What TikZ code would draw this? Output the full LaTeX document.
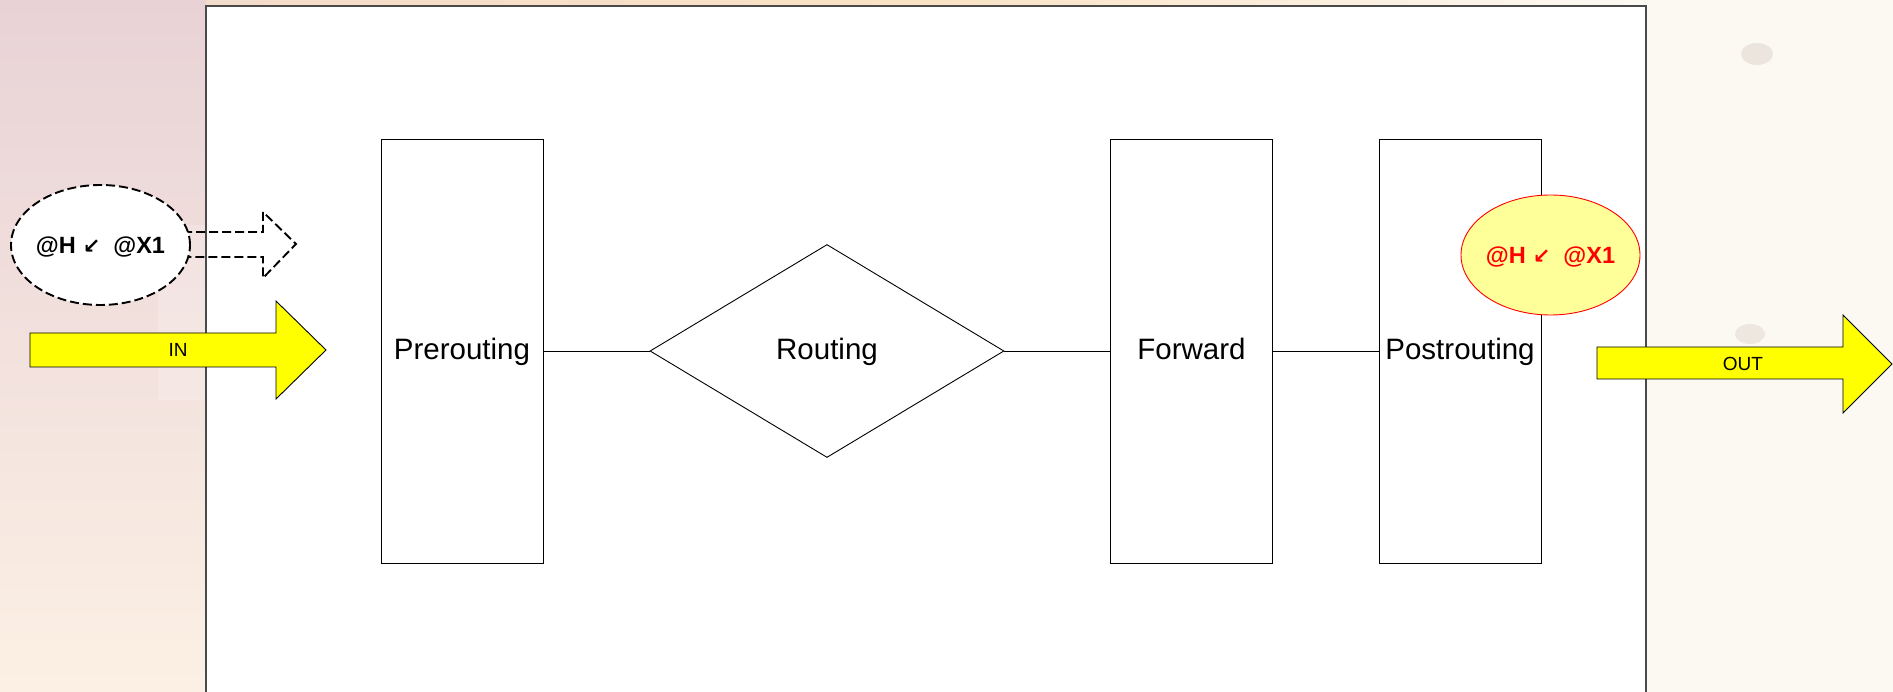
\documentclass[tikz,border=0pt]{standalone}
\usepackage{fontspec}
\setmainfont{Liberation Sans}
\newfontfamily\symfont{DejaVu Sans}
\usetikzlibrary{shapes.geometric}
\definecolor{bgcream}{HTML}{FCF9F3}
\definecolor{pinktop}{HTML}{E8D2D6}
\definecolor{pinkmid}{HTML}{F3E0D8}
\definecolor{peachbot}{HTML}{FCF0E4}
\definecolor{topstripA}{HTML}{F4DCCB}
\definecolor{topstripB}{HTML}{FAE2C4}
\definecolor{boxgray}{HTML}{4A4A4A}
\definecolor{arrowyellow}{HTML}{FFFF00}
\definecolor{paleyellow}{HTML}{FFFF99}
\definecolor{blobgray}{HTML}{DCD2CB}
\tikzset{
  stagebox/.style={draw=black, line width=0.9pt, fill=white, minimum width=162pt, minimum height=424pt, inner sep=0pt, text height=21pt, text depth=4pt, font=\fontsize{29.5}{32}\selectfont},
  decisionbox/.style={diamond, draw=black, line width=0.9pt, fill=white, minimum width=354pt, minimum height=213pt, inner sep=0pt, text height=21pt, text depth=4pt, font=\fontsize{29.5}{32}\selectfont},
  flowline/.style={draw=black, line width=0.9pt},
  mainframe/.style={draw=boxgray, line width=1.4pt, fill=white},
  bigarrow/.style={draw=black, line width=0.9pt, fill=arrowyellow, line join=miter},
  arrowlabel/.style={inner sep=0pt, text height=13.6pt, text depth=0pt, font=\fontsize{19}{20}\selectfont},
  markbubble/.style={ellipse, minimum width=179pt, minimum height=120pt, inner sep=0pt, text height=16.5pt, text depth=0pt, font=\fontsize{23.5}{24}\selectfont\bfseries},
  dashline/.style={draw=black, line width=1.9pt, dash pattern=on 9pt off 4pt},
}
\newcommand{\marktext}{\makebox[0pt][c]{@H\hspace{7pt}{\symfont\fontsize{21}{21}\selectfont ↙}\hspace{13pt}@X1}}
\begin{document}
\begin{tikzpicture}[x=1pt,y=-1pt]
\useasboundingbox (0,0) rectangle (1893,692);
\clip (0,0) rectangle (1893,692);
% background
\fill[bgcream] (0,0) rectangle (1893,692);
\shade[top color=pinktop, middle color=pinkmid, bottom color=peachbot] (0,0) rectangle (206,692);
\shade[left color=topstripA, right color=bgcream, middle color=topstripB] (206,0) rectangle (1646,8);
\fill[white, opacity=0.2] (158,225) rectangle (206,400);
\fill[blobgray, opacity=0.5] (1757,54) ellipse (16 and 11);
\fill[blobgray, opacity=0.45] (1750,334) ellipse (15 and 10);
% main frame
\draw[mainframe] (206,6) rectangle (1646,720);
% stages
\node[stagebox] (pre) at (462,351) {Prerouting};
\node[decisionbox] (route) at (827,351) {Routing};
\node[stagebox] (fwd) at (1191.5,351) {Forward};
\node[stagebox] (post) at (1460,351) {Postrouting};
\draw[flowline] (pre.east) -- (route.west);
\draw[flowline] (route.east) -- (fwd.west);
\draw[flowline] (fwd.east) -- (post.west);
% IN arrow
\draw[bigarrow] (30,333) -- (276,333) -- (276,301) -- (326,350) -- (276,399) -- (276,367) -- (30,367) -- cycle;
\node[arrowlabel] (inlbl) at (178,350) {IN};
% OUT arrow
\draw[bigarrow] (1597,347) -- (1843,347) -- (1843,315) -- (1892,364) -- (1843,413) -- (1843,379) -- (1597,379) -- cycle;
\node[arrowlabel] (outlbl) at (1743,364) {OUT};
% dashed mark arrow and bubble
\draw[dashline, line join=miter] (170,232) -- (263,232) -- (263,212) -- (296,244) -- (263,278) -- (263,257) -- (170,257);
\node[markbubble, dashline, fill=white] (markin) at (100.5,245) {\marktext};
% red mark bubble
\node[markbubble, draw=red, line width=0.9pt, fill=paleyellow, text=red] (markout) at (1550.5,255) {\marktext};
\end{tikzpicture}
\end{document}
